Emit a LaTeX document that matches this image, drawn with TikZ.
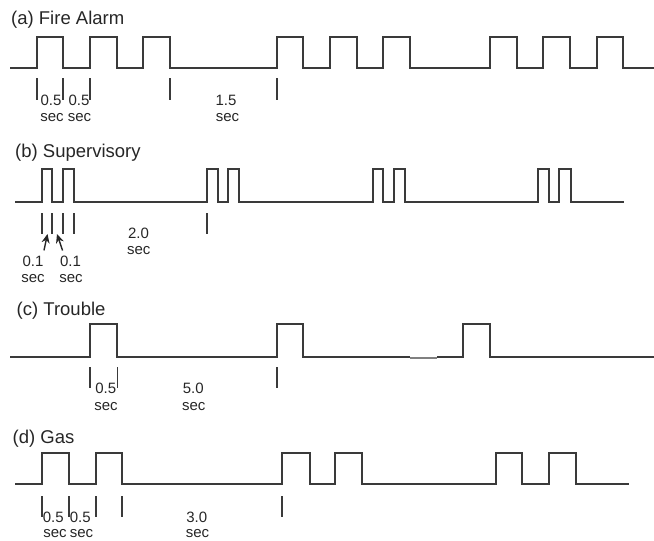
\documentclass[tikz,border=0pt]{standalone}
\usepackage{fontspec}
\setmainfont{Liberation Sans}
\usetikzlibrary{arrows.meta}
\definecolor{wavegray}{HTML}{3A3A3A}
\definecolor{fadegray}{HTML}{808080}

\begin{document}
\begin{tikzpicture}[x=1pt, y=-1pt,
    wave/.style={draw=wavegray, line width=1.3pt},
    tick/.style={draw=wavegray, line width=1.1pt},
    paneltitle/.style={anchor=base west, inner sep=0pt, text=black!85, font=\fontsize{18.5}{22}\selectfont},
    lbl/.style={anchor=base, inner sep=1pt, text=black!85, font=\fontsize{15}{18}\selectfont},
    pointer/.style={-{Stealth[length=9pt,width=8pt]}, line width=1.4pt, black!85}]
\useasboundingbox (0,0) rectangle (654,541);

% (a) fire alarm
\node[paneltitle] (a-title) at (11,24) {(a) Fire Alarm};
\draw[wave] (10,68) -| (37,37) -| (63,68) -| (90,37) -| (117,68) -| (143,37) -| (170,68)
    -| (277,37) -| (303,68) -| (330,37) -| (357,68) -| (383,37) -| (410,68)
    -| (490,37) -| (517,68) -| (543,37) -| (570,68) -| (597,37) -| (623,68) -- (654,68);
\foreach \x in {37,63,90,170,277} \draw[tick] (\x,78) -- (\x,100);
\node[lbl] (a-n1) at (51,105) {0.5};
\node[lbl] (a-s1) at (52,121.7) {sec};
\node[lbl] (a-n2) at (79,105) {0.5};
\node[lbl] (a-s2) at (79.5,121.7) {sec};
\node[lbl] (a-n3) at (226,105) {1.5};
\node[lbl] (a-s3) at (227.5,121.7) {sec};

% (b) supervisory
\node[paneltitle] (b-title) at (15,157) {(b) Supervisory};
\draw[wave] (15,202) -| (42,169) -| (52,202) -| (63,169) -| (74,202)
    -| (207,169) -| (218,202) -| (228,169) -| (239,202)
    -| (373,169) -| (383,202) -| (394,169) -| (405,202)
    -| (538,169) -| (549,202) -| (559,169) -| (571,202) -- (624,202);
\foreach \x in {42,52,63,74,207} \draw[tick] (\x,213) -- (\x,234);
\coordinate (b-gap1) at (47.5,234);
\coordinate (b-gap2) at (57,234);
\node[lbl] (b-n1) at (33,266) {0.1};
\node[lbl] (b-s1) at (33,282.3) {sec};
\node[lbl] (b-n2) at (70.5,266) {0.1};
\node[lbl] (b-s2) at (71,282.3) {sec};
\node[lbl] (b-n3) at (138.5,238.3) {2.0};
\node[lbl] (b-s3) at (138.7,254) {sec};
\draw[pointer, shorten <=4pt] ([xshift=-1.5pt]b-n1.north east) -- (b-gap1);
\draw[pointer, shorten <=4pt] ([xshift=5pt]b-n2.north west) -- (b-gap2);

% (c) trouble
\node[paneltitle] (c-title) at (16.5,315) {(c) Trouble};
\draw[wave] (10,357) -| (90,324) -| (117,357) -| (277,324) -| (303,357) -- (410,357);
\draw[wave, fadegray] (410,358) -- (437,358);
\draw[wave] (437,357) -| (463,324) -| (490,357) -- (654,357);
\foreach \x in {90,117.5,277} \draw[tick] (\x,367) -- (\x,388);
\node[lbl] (c-n1) at (105.8,393) {0.5};
\node[lbl] (c-s1) at (106,410.5) {sec};
\node[lbl] (c-n2) at (193.3,393) {5.0};
\node[lbl] (c-s2) at (193.7,410.5) {sec};

% (d) gas
\node[paneltitle] (d-title) at (12.5,443.3) {(d) Gas};
\draw[wave] (15,484) -| (42,453) -| (69,484) -| (96,453) -| (122,484)
    -| (282,453) -| (310,484) -| (335,453) -| (362,484)
    -| (496,453) -| (522,484) -| (549,453) -| (576,484) -- (629,484);
\foreach \x in {42,69,96,122,282} \draw[tick] (\x,496) -- (\x,517);
\node[lbl] (d-n1) at (53.3,522) {0.5};
\node[lbl] (d-s1) at (55,537) {sec};
\node[lbl] (d-n2) at (80.3,522) {0.5};
\node[lbl] (d-s2) at (81.5,537) {sec};
\node[lbl] (d-n3) at (196.7,522) {3.0};
\node[lbl] (d-s3) at (197.5,537) {sec};
\end{tikzpicture}
\end{document}
